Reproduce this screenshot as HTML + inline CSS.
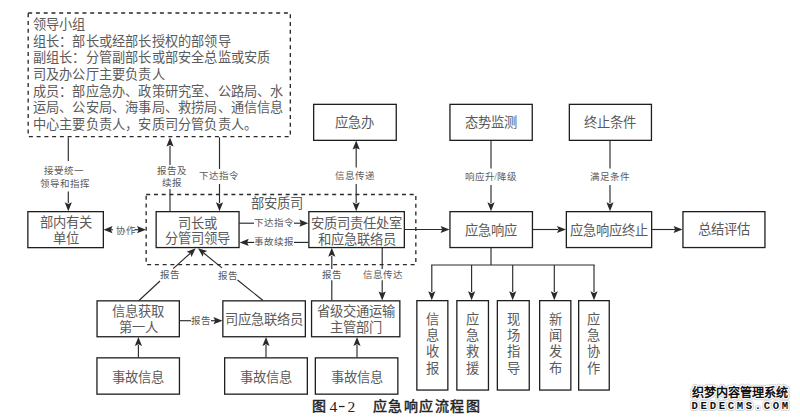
<!DOCTYPE html>
<html lang="zh-CN"><head><meta charset="utf-8"><style>
html,body{margin:0;padding:0;background:#fff;width:800px;height:420px;overflow:hidden}
svg{display:block;font-family:"Liberation Serif",serif}
</style></head><body>
<svg width="800" height="420" viewBox="0 0 800 420">
<rect width="800" height="420" fill="#fff"/>
<rect x="28.18" y="12.98" width="262.15" height="123.65" fill="none" stroke="#2a2a2a" stroke-width="1.35" stroke-dasharray="4 3.75"/>
<text x="32.80" y="24.60" font-size="13.2" fill="#5a5a5a" text-anchor="start" dominant-baseline="central" letter-spacing="0.2">领导小组</text>
<text x="32.80" y="41.27" font-size="13.2" fill="#5a5a5a" text-anchor="start" dominant-baseline="central" letter-spacing="0.2">组长：部长或经部长授权的部领导</text>
<text x="32.80" y="57.94" font-size="13.2" fill="#5a5a5a" text-anchor="start" dominant-baseline="central" letter-spacing="0.2">副组长：分管副部长或部安全总监或安质</text>
<text x="32.80" y="74.61" font-size="13.2" fill="#5a5a5a" text-anchor="start" dominant-baseline="central" letter-spacing="0.2">司及办公厅主要负责人</text>
<text x="32.80" y="91.28" font-size="13.2" fill="#5a5a5a" text-anchor="start" dominant-baseline="central" letter-spacing="0.2">成员：部应急办、政策研究室、公路局、水</text>
<text x="32.80" y="107.95" font-size="13.2" fill="#5a5a5a" text-anchor="start" dominant-baseline="central" letter-spacing="0.2">运局、公安局、海事局、救捞局、通信信息</text>
<text x="32.80" y="124.62" font-size="13.2" fill="#5a5a5a" text-anchor="start" dominant-baseline="central" letter-spacing="0.2">中心主要负责人，安质司分管负责人。</text>
<rect x="146.18" y="194.48" width="269.65" height="70.15" fill="none" stroke="#2a2a2a" stroke-width="1.35" stroke-dasharray="4 3.75"/>
<text x="277.40" y="203.50" font-size="13.3" fill="#5a5a5a" text-anchor="middle" dominant-baseline="central">部安质司</text>
<rect x="27.85" y="211.65" width="75.50" height="36.00" fill="none" stroke="#1e1e1e" stroke-width="1.3"/>
<text x="65.50" y="222.30" font-size="13.3" fill="#5a5a5a" text-anchor="middle" dominant-baseline="central">部内有关</text>
<text x="65.50" y="238.50" font-size="13.3" fill="#5a5a5a" text-anchor="middle" dominant-baseline="central">单位</text>
<rect x="156.15" y="211.65" width="82.90" height="35.90" fill="none" stroke="#1e1e1e" stroke-width="1.3"/>
<text x="197.50" y="223.00" font-size="13.3" fill="#5a5a5a" text-anchor="middle" dominant-baseline="central">司长或</text>
<text x="197.50" y="238.60" font-size="13.3" fill="#5a5a5a" text-anchor="middle" dominant-baseline="central">分管司领导</text>
<rect x="308.85" y="211.65" width="95.50" height="35.90" fill="none" stroke="#1e1e1e" stroke-width="1.3"/>
<text x="356.50" y="223.00" font-size="13.3" fill="#5a5a5a" text-anchor="middle" dominant-baseline="central">安质司责任处室</text>
<text x="356.50" y="239.30" font-size="13.3" fill="#5a5a5a" text-anchor="middle" dominant-baseline="central">和应急联络员</text>
<rect x="449.95" y="211.65" width="82.50" height="35.90" fill="none" stroke="#1e1e1e" stroke-width="1.3"/>
<text x="491.10" y="230.00" font-size="13.3" fill="#5a5a5a" text-anchor="middle" dominant-baseline="central">应急响应</text>
<rect x="566.35" y="211.65" width="85.30" height="35.90" fill="none" stroke="#1e1e1e" stroke-width="1.3"/>
<text x="608.90" y="230.00" font-size="13.3" fill="#5a5a5a" text-anchor="middle" dominant-baseline="central">应急响应终止</text>
<rect x="682.95" y="211.65" width="82.00" height="35.90" fill="none" stroke="#1e1e1e" stroke-width="1.3"/>
<text x="723.85" y="229.50" font-size="13.3" fill="#5a5a5a" text-anchor="middle" dominant-baseline="central">总结评估</text>
<rect x="313.65" y="104.35" width="82.60" height="36.00" fill="none" stroke="#1e1e1e" stroke-width="1.3"/>
<text x="354.85" y="122.30" font-size="13.3" fill="#5a5a5a" text-anchor="middle" dominant-baseline="central">应急办</text>
<rect x="449.95" y="104.35" width="82.30" height="36.00" fill="none" stroke="#1e1e1e" stroke-width="1.3"/>
<text x="491.00" y="122.30" font-size="13.3" fill="#5a5a5a" text-anchor="middle" dominant-baseline="central">态势监测</text>
<rect x="569.35" y="104.35" width="82.10" height="36.00" fill="none" stroke="#1e1e1e" stroke-width="1.3"/>
<text x="610.30" y="122.30" font-size="13.3" fill="#5a5a5a" text-anchor="middle" dominant-baseline="central">终止条件</text>
<rect x="97.05" y="300.85" width="82.30" height="35.90" fill="none" stroke="#1e1e1e" stroke-width="1.3"/>
<text x="138.10" y="311.00" font-size="13.3" fill="#5a5a5a" text-anchor="middle" dominant-baseline="central">信息获取</text>
<text x="138.10" y="327.00" font-size="13.3" fill="#5a5a5a" text-anchor="middle" dominant-baseline="central">第一人</text>
<rect x="222.85" y="300.85" width="82.50" height="35.90" fill="none" stroke="#1e1e1e" stroke-width="1.3"/>
<text x="264.00" y="319.00" font-size="13.3" fill="#5a5a5a" text-anchor="middle" dominant-baseline="central">司应急联络员</text>
<rect x="311.55" y="300.85" width="88.30" height="35.90" fill="none" stroke="#1e1e1e" stroke-width="1.3"/>
<text x="355.60" y="311.00" font-size="13.3" fill="#5a5a5a" text-anchor="middle" dominant-baseline="central">省级交通运输</text>
<text x="355.60" y="327.50" font-size="13.3" fill="#5a5a5a" text-anchor="middle" dominant-baseline="central">主管部门</text>
<rect x="96.95" y="357.85" width="82.50" height="36.30" fill="none" stroke="#1e1e1e" stroke-width="1.3"/>
<text x="138.10" y="377.00" font-size="13.3" fill="#5a5a5a" text-anchor="middle" dominant-baseline="central">事故信息</text>
<line x1="138.40" y1="357.50" x2="138.40" y2="345.00" stroke="#2a2a2a" stroke-width="1.15"/>
<path d="M138.40,336.90 L142.00,345.90 L138.40,344.30 L134.80,345.90 Z" fill="#2a2a2a"/>
<rect x="224.65" y="357.85" width="82.70" height="36.30" fill="none" stroke="#1e1e1e" stroke-width="1.3"/>
<text x="265.90" y="377.00" font-size="13.3" fill="#5a5a5a" text-anchor="middle" dominant-baseline="central">事故信息</text>
<line x1="266.00" y1="357.50" x2="266.00" y2="345.00" stroke="#2a2a2a" stroke-width="1.15"/>
<path d="M266.00,336.90 L269.60,345.90 L266.00,344.30 L262.40,345.90 Z" fill="#2a2a2a"/>
<rect x="315.35" y="357.85" width="82.50" height="36.30" fill="none" stroke="#1e1e1e" stroke-width="1.3"/>
<text x="356.50" y="377.00" font-size="13.3" fill="#5a5a5a" text-anchor="middle" dominant-baseline="central">事故信息</text>
<line x1="357.00" y1="357.50" x2="357.00" y2="345.00" stroke="#2a2a2a" stroke-width="1.15"/>
<path d="M357.00,336.90 L360.60,345.90 L357.00,344.30 L353.40,345.90 Z" fill="#2a2a2a"/>
<rect x="416.85" y="300.65" width="31.00" height="89.40" fill="none" stroke="#1e1e1e" stroke-width="1.3"/>
<text x="432.25" y="319.40" font-size="13.3" fill="#5a5a5a" text-anchor="middle" dominant-baseline="central">信</text>
<text x="432.25" y="335.60" font-size="13.3" fill="#5a5a5a" text-anchor="middle" dominant-baseline="central">息</text>
<text x="432.25" y="351.80" font-size="13.3" fill="#5a5a5a" text-anchor="middle" dominant-baseline="central">收</text>
<text x="432.25" y="368.00" font-size="13.3" fill="#5a5a5a" text-anchor="middle" dominant-baseline="central">报</text>
<line x1="431.80" y1="265.00" x2="431.80" y2="292.00" stroke="#2a2a2a" stroke-width="1.15"/>
<path d="M431.80,300.30 L428.20,291.30 L431.80,292.90 L435.40,291.30 Z" fill="#2a2a2a"/>
<rect x="456.85" y="300.65" width="31.60" height="89.40" fill="none" stroke="#1e1e1e" stroke-width="1.3"/>
<text x="472.55" y="319.40" font-size="13.3" fill="#5a5a5a" text-anchor="middle" dominant-baseline="central">应</text>
<text x="472.55" y="335.60" font-size="13.3" fill="#5a5a5a" text-anchor="middle" dominant-baseline="central">急</text>
<text x="472.55" y="351.80" font-size="13.3" fill="#5a5a5a" text-anchor="middle" dominant-baseline="central">救</text>
<text x="472.55" y="368.00" font-size="13.3" fill="#5a5a5a" text-anchor="middle" dominant-baseline="central">援</text>
<line x1="471.60" y1="265.00" x2="471.60" y2="292.00" stroke="#2a2a2a" stroke-width="1.15"/>
<path d="M471.60,300.30 L468.00,291.30 L471.60,292.90 L475.20,291.30 Z" fill="#2a2a2a"/>
<rect x="497.35" y="300.65" width="31.90" height="89.40" fill="none" stroke="#1e1e1e" stroke-width="1.3"/>
<text x="513.20" y="319.40" font-size="13.3" fill="#5a5a5a" text-anchor="middle" dominant-baseline="central">现</text>
<text x="513.20" y="335.60" font-size="13.3" fill="#5a5a5a" text-anchor="middle" dominant-baseline="central">场</text>
<text x="513.20" y="351.80" font-size="13.3" fill="#5a5a5a" text-anchor="middle" dominant-baseline="central">指</text>
<text x="513.20" y="368.00" font-size="13.3" fill="#5a5a5a" text-anchor="middle" dominant-baseline="central">导</text>
<line x1="512.70" y1="265.00" x2="512.70" y2="292.00" stroke="#2a2a2a" stroke-width="1.15"/>
<path d="M512.70,300.30 L509.10,291.30 L512.70,292.90 L516.30,291.30 Z" fill="#2a2a2a"/>
<rect x="539.65" y="300.65" width="31.20" height="89.40" fill="none" stroke="#1e1e1e" stroke-width="1.3"/>
<text x="555.15" y="319.40" font-size="13.3" fill="#5a5a5a" text-anchor="middle" dominant-baseline="central">新</text>
<text x="555.15" y="335.60" font-size="13.3" fill="#5a5a5a" text-anchor="middle" dominant-baseline="central">闻</text>
<text x="555.15" y="351.80" font-size="13.3" fill="#5a5a5a" text-anchor="middle" dominant-baseline="central">发</text>
<text x="555.15" y="368.00" font-size="13.3" fill="#5a5a5a" text-anchor="middle" dominant-baseline="central">布</text>
<line x1="554.30" y1="265.00" x2="554.30" y2="292.00" stroke="#2a2a2a" stroke-width="1.15"/>
<path d="M554.30,300.30 L550.70,291.30 L554.30,292.90 L557.90,291.30 Z" fill="#2a2a2a"/>
<rect x="578.65" y="300.65" width="30.60" height="89.40" fill="none" stroke="#1e1e1e" stroke-width="1.3"/>
<text x="593.85" y="319.40" font-size="13.3" fill="#5a5a5a" text-anchor="middle" dominant-baseline="central">应</text>
<text x="593.85" y="335.60" font-size="13.3" fill="#5a5a5a" text-anchor="middle" dominant-baseline="central">急</text>
<text x="593.85" y="351.80" font-size="13.3" fill="#5a5a5a" text-anchor="middle" dominant-baseline="central">协</text>
<text x="593.85" y="368.00" font-size="13.3" fill="#5a5a5a" text-anchor="middle" dominant-baseline="central">作</text>
<line x1="594.00" y1="265.00" x2="594.00" y2="292.00" stroke="#2a2a2a" stroke-width="1.15"/>
<path d="M594.00,300.30 L590.40,291.30 L594.00,292.90 L597.60,291.30 Z" fill="#2a2a2a"/>
<line x1="491.00" y1="247.70" x2="491.00" y2="265.00" stroke="#2a2a2a" stroke-width="1.15"/>
<line x1="431.15" y1="265.00" x2="594.65" y2="265.00" stroke="#2a2a2a" stroke-width="1.15"/>
<line x1="68.30" y1="137.30" x2="68.30" y2="161.00" stroke="#2a2a2a" stroke-width="1.15"/>
<line x1="68.30" y1="191.40" x2="68.30" y2="203.00" stroke="#2a2a2a" stroke-width="1.15"/>
<path d="M68.30,211.30 L64.70,202.30 L68.30,203.90 L71.90,202.30 Z" fill="#2a2a2a"/>
<text x="64.40" y="170.90" font-size="9.5" fill="#5a5a5a" text-anchor="middle" dominant-baseline="central">接受统一</text>
<text x="64.50" y="184.20" font-size="9.5" fill="#5a5a5a" text-anchor="middle" dominant-baseline="central">领导和指挥</text>
<line x1="170.00" y1="211.30" x2="170.00" y2="189.00" stroke="#2a2a2a" stroke-width="1.15"/>
<line x1="170.00" y1="165.00" x2="170.00" y2="146.00" stroke="#2a2a2a" stroke-width="1.15"/>
<path d="M170.00,137.50 L173.60,146.50 L170.00,144.90 L166.40,146.50 Z" fill="#2a2a2a"/>
<text x="172.00" y="171.20" font-size="9.5" fill="#5a5a5a" text-anchor="middle" dominant-baseline="central">报告及</text>
<text x="172.00" y="183.00" font-size="9.5" fill="#5a5a5a" text-anchor="middle" dominant-baseline="central">续报</text>
<line x1="219.50" y1="137.30" x2="219.50" y2="169.00" stroke="#2a2a2a" stroke-width="1.15"/>
<line x1="219.50" y1="184.00" x2="219.50" y2="203.00" stroke="#2a2a2a" stroke-width="1.15"/>
<path d="M219.50,211.30 L215.90,202.30 L219.50,203.90 L223.10,202.30 Z" fill="#2a2a2a"/>
<text x="219.40" y="176.20" font-size="9.5" fill="#5a5a5a" text-anchor="middle" dominant-baseline="central">下达指令</text>
<path d="M356.20,140.50 L359.80,149.50 L356.20,147.90 L352.60,149.50 Z" fill="#2a2a2a"/>
<line x1="356.20" y1="148.00" x2="356.20" y2="167.40" stroke="#2a2a2a" stroke-width="1.15"/>
<line x1="356.20" y1="184.10" x2="356.20" y2="203.00" stroke="#2a2a2a" stroke-width="1.15"/>
<path d="M356.20,211.30 L352.60,202.30 L356.20,203.90 L359.80,202.30 Z" fill="#2a2a2a"/>
<text x="355.20" y="176.30" font-size="9.5" fill="#5a5a5a" text-anchor="middle" dominant-baseline="central">信息传递</text>
<line x1="491.00" y1="140.50" x2="491.00" y2="168.50" stroke="#2a2a2a" stroke-width="1.15"/>
<line x1="491.00" y1="185.00" x2="491.00" y2="203.00" stroke="#2a2a2a" stroke-width="1.15"/>
<path d="M491.00,211.30 L487.40,202.30 L491.00,203.90 L494.60,202.30 Z" fill="#2a2a2a"/>
<text x="490.70" y="176.50" font-size="9.5" fill="#5a5a5a" text-anchor="middle" dominant-baseline="central">响应升<tspan dx="-0.6">/</tspan><tspan dx="-0.2">降级</tspan></text>
<line x1="610.00" y1="140.50" x2="610.00" y2="168.50" stroke="#2a2a2a" stroke-width="1.15"/>
<line x1="610.00" y1="185.00" x2="610.00" y2="203.00" stroke="#2a2a2a" stroke-width="1.15"/>
<path d="M610.00,211.30 L606.40,202.30 L610.00,203.90 L613.60,202.30 Z" fill="#2a2a2a"/>
<text x="610.00" y="176.50" font-size="9.5" fill="#5a5a5a" text-anchor="middle" dominant-baseline="central">满足条件</text>
<path d="M103.50,229.70 L112.50,226.10 L110.90,229.70 L112.50,233.30 Z" fill="#2a2a2a"/>
<line x1="111.00" y1="229.70" x2="113.00" y2="229.70" stroke="#2a2a2a" stroke-width="1.15"/>
<line x1="134.50" y1="229.70" x2="139.00" y2="229.70" stroke="#2a2a2a" stroke-width="1.15"/>
<path d="M146.00,229.70 L137.00,233.30 L138.60,229.70 L137.00,226.10 Z" fill="#2a2a2a"/>
<text x="126.00" y="230.60" font-size="9.5" fill="#5a5a5a" text-anchor="middle" dominant-baseline="central">协作</text>
<line x1="239.20" y1="223.20" x2="254.00" y2="223.20" stroke="#2a2a2a" stroke-width="1.15"/>
<line x1="294.00" y1="223.20" x2="301.00" y2="223.20" stroke="#2a2a2a" stroke-width="1.15"/>
<path d="M308.30,223.20 L299.30,226.80 L300.90,223.20 L299.30,219.60 Z" fill="#2a2a2a"/>
<text x="273.50" y="222.60" font-size="9.5" fill="#5a5a5a" text-anchor="middle" dominant-baseline="central">下达指令</text>
<path d="M239.70,242.40 L248.70,238.80 L247.10,242.40 L248.70,246.00 Z" fill="#2a2a2a"/>
<line x1="247.00" y1="242.40" x2="254.00" y2="242.40" stroke="#2a2a2a" stroke-width="1.15"/>
<line x1="294.00" y1="242.40" x2="308.50" y2="242.40" stroke="#2a2a2a" stroke-width="1.15"/>
<text x="273.50" y="242.30" font-size="9.5" fill="#5a5a5a" text-anchor="middle" dominant-baseline="central">事故续报</text>
<line x1="404.50" y1="229.50" x2="442.00" y2="229.50" stroke="#2a2a2a" stroke-width="1.15"/>
<path d="M449.60,229.50 L440.60,233.10 L442.20,229.50 L440.60,225.90 Z" fill="#2a2a2a"/>
<line x1="532.60" y1="229.50" x2="558.00" y2="229.50" stroke="#2a2a2a" stroke-width="1.15"/>
<path d="M566.00,229.50 L557.00,233.10 L558.60,229.50 L557.00,225.90 Z" fill="#2a2a2a"/>
<line x1="651.80" y1="229.50" x2="675.00" y2="229.50" stroke="#2a2a2a" stroke-width="1.15"/>
<path d="M682.60,229.50 L673.60,233.10 L675.20,229.50 L673.60,225.90 Z" fill="#2a2a2a"/>
<line x1="139.00" y1="300.50" x2="160.00" y2="281.00" stroke="#2a2a2a" stroke-width="1.15"/>
<line x1="173.20" y1="268.60" x2="190.00" y2="253.50" stroke="#2a2a2a" stroke-width="1.15"/>
<path d="M195.70,248.20 L191.53,256.95 L190.26,253.22 L186.64,251.66 Z" fill="#2a2a2a"/>
<text x="169.70" y="274.50" font-size="9.5" fill="#5a5a5a" text-anchor="middle" dominant-baseline="central">报告</text>
<line x1="263.00" y1="300.50" x2="237.50" y2="280.00" stroke="#2a2a2a" stroke-width="1.15"/>
<line x1="222.00" y1="267.90" x2="204.00" y2="253.30" stroke="#2a2a2a" stroke-width="1.15"/>
<path d="M198.00,248.20 L207.27,251.04 L203.77,252.84 L202.76,256.65 Z" fill="#2a2a2a"/>
<text x="228.20" y="275.50" font-size="9.5" fill="#5a5a5a" text-anchor="middle" dominant-baseline="central">报告</text>
<line x1="179.50" y1="320.70" x2="191.00" y2="320.70" stroke="#2a2a2a" stroke-width="1.15"/>
<line x1="211.00" y1="320.70" x2="215.00" y2="320.70" stroke="#2a2a2a" stroke-width="1.15"/>
<path d="M222.50,320.70 L213.50,324.30 L215.10,320.70 L213.50,317.10 Z" fill="#2a2a2a"/>
<text x="200.90" y="320.70" font-size="9.5" fill="#5a5a5a" text-anchor="middle" dominant-baseline="central">报告</text>
<line x1="331.80" y1="300.50" x2="331.80" y2="280.30" stroke="#2a2a2a" stroke-width="1.15"/>
<line x1="331.80" y1="269.00" x2="331.80" y2="256.00" stroke="#2a2a2a" stroke-width="1.15"/>
<path d="M331.80,247.70 L335.40,256.70 L331.80,255.10 L328.20,256.70 Z" fill="#2a2a2a"/>
<text x="331.80" y="275.00" font-size="9.5" fill="#5a5a5a" text-anchor="middle" dominant-baseline="central">报告</text>
<line x1="382.20" y1="247.70" x2="382.20" y2="269.00" stroke="#2a2a2a" stroke-width="1.15"/>
<line x1="382.20" y1="280.30" x2="382.20" y2="293.00" stroke="#2a2a2a" stroke-width="1.15"/>
<path d="M382.20,300.50 L378.60,291.50 L382.20,293.10 L385.80,291.50 Z" fill="#2a2a2a"/>
<text x="382.50" y="275.00" font-size="9.5" fill="#5a5a5a" text-anchor="middle" dominant-baseline="central">信息传达</text>
<text x="312" y="406.2" font-size="14" font-weight="normal" fill="#222" stroke="#222" stroke-width="0.45" dominant-baseline="central" font-family="Liberation Sans, sans-serif">图</text>
<text x="329.6" y="406.2" font-size="15.5" fill="#222" dominant-baseline="central">4</text><rect x="339" y="405.9" width="5.6" height="1.25" fill="#222"/><text x="347.6" y="406.2" font-size="15.5" fill="#222" dominant-baseline="central">2</text>
<text x="372.5" y="406.2" font-size="14" font-weight="normal" fill="#222" stroke="#222" stroke-width="0.45" letter-spacing="1.6" dominant-baseline="central" font-family="Liberation Sans, sans-serif">应急响应流程图</text>
<text x="691.8" y="392.6" font-size="12.1" font-weight="bold" fill="#d6d6d6" stroke="#d6d6d6" stroke-width="4.2" stroke-linejoin="round" paint-order="stroke" dominant-baseline="central" font-family="Liberation Sans, sans-serif">织梦内容管理系统</text>
<text x="691.6" y="406.2" font-size="10.6" font-weight="bold" fill="#d6d6d6" stroke="#d6d6d6" stroke-width="4.2" stroke-linejoin="round" paint-order="stroke" letter-spacing="2.67" dominant-baseline="central" font-family="Liberation Mono, monospace">DEDECMS.COM</text>
<text x="691.8" y="392.6" font-size="12.1" font-weight="bold" fill="#111" stroke="#ffffff" stroke-width="2.2" stroke-linejoin="round" paint-order="stroke" dominant-baseline="central" font-family="Liberation Sans, sans-serif">织梦内容管理系统</text>
<text x="691.6" y="406.2" font-size="10.6" font-weight="bold" fill="#111" stroke="#ffffff" stroke-width="2.2" stroke-linejoin="round" paint-order="stroke" letter-spacing="2.67" dominant-baseline="central" font-family="Liberation Mono, monospace">DEDECMS.COM</text>
</svg>
</body></html>
